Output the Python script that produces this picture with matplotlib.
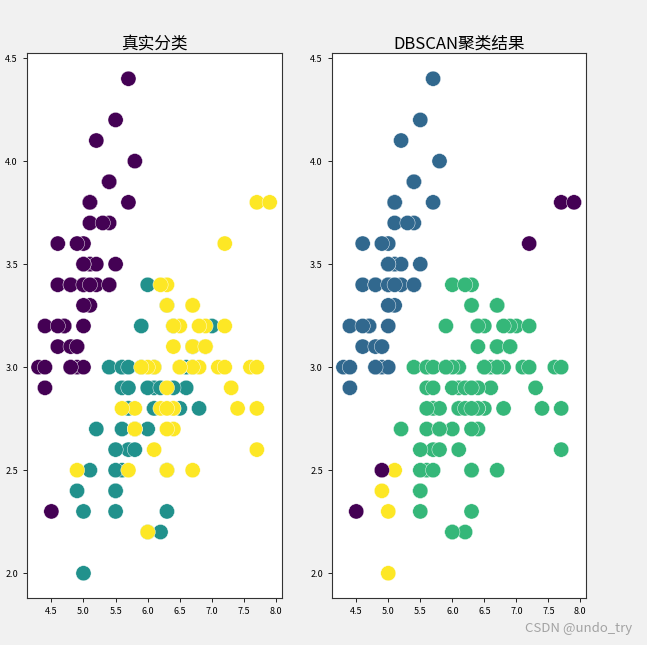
import matplotlib
matplotlib.use('Agg')
from matplotlib import pyplot as plt

plt.rcParams['font.family'] = ['Noto Sans CJK SC', 'DejaVu Sans']
plt.rcParams['axes.unicode_minus'] = False

# iris: 花萼长度 / 花萼宽度
sepal_length = [
    5.1, 4.9, 4.7, 4.6, 5.0, 5.4, 4.6, 5.0, 4.4, 4.9,
    5.4, 4.8, 4.8, 4.3, 5.8, 5.7, 5.4, 5.1, 5.7, 5.1,
    5.4, 5.1, 4.6, 5.1, 4.8, 5.0, 5.0, 5.2, 5.2, 4.7,
    4.8, 5.4, 5.2, 5.5, 4.9, 5.0, 5.5, 4.9, 4.4, 5.1,
    5.0, 4.5, 4.4, 5.0, 5.1, 4.8, 5.1, 4.6, 5.3, 5.0,
    7.0, 6.4, 6.9, 5.5, 6.5, 5.7, 6.3, 4.9, 6.6, 5.2,
    5.0, 5.9, 6.0, 6.1, 5.6, 6.7, 5.6, 5.8, 6.2, 5.6,
    5.9, 6.1, 6.3, 6.1, 6.4, 6.6, 6.8, 6.7, 6.0, 5.7,
    5.5, 5.5, 5.8, 6.0, 5.4, 6.0, 6.7, 6.3, 5.6, 5.5,
    5.5, 6.1, 5.8, 5.0, 5.6, 5.7, 5.7, 6.2, 5.1, 5.7,
    6.3, 5.8, 7.1, 6.3, 6.5, 7.6, 4.9, 7.3, 6.7, 7.2,
    6.5, 6.4, 6.8, 5.7, 5.8, 6.4, 6.5, 7.7, 7.7, 6.0,
    6.9, 5.6, 7.7, 6.3, 6.7, 7.2, 6.2, 6.1, 6.4, 7.2,
    7.4, 7.9, 6.4, 6.3, 6.1, 7.7, 6.3, 6.4, 6.0, 6.9,
    6.7, 6.9, 5.8, 6.8, 6.7, 6.7, 6.3, 6.5, 6.2, 5.9,
]
sepal_width = [
    3.5, 3.0, 3.2, 3.1, 3.6, 3.9, 3.4, 3.4, 2.9, 3.1,
    3.7, 3.4, 3.0, 3.0, 4.0, 4.4, 3.9, 3.5, 3.8, 3.8,
    3.4, 3.7, 3.6, 3.3, 3.4, 3.0, 3.4, 3.5, 3.4, 3.2,
    3.1, 3.4, 4.1, 4.2, 3.1, 3.2, 3.5, 3.6, 3.0, 3.4,
    3.5, 2.3, 3.2, 3.5, 3.8, 3.0, 3.8, 3.2, 3.7, 3.3,
    3.2, 3.2, 3.1, 2.3, 2.8, 2.8, 3.3, 2.4, 2.9, 2.7,
    2.0, 3.0, 2.2, 2.9, 2.9, 3.1, 3.0, 2.7, 2.2, 2.5,
    3.2, 2.8, 2.5, 2.8, 2.9, 3.0, 2.8, 3.0, 2.9, 2.6,
    2.4, 2.4, 2.7, 2.7, 3.0, 3.4, 3.1, 2.3, 3.0, 2.5,
    2.6, 3.0, 2.6, 2.3, 2.7, 3.0, 2.9, 2.9, 2.5, 2.8,
    3.3, 2.7, 3.0, 2.9, 3.0, 3.0, 2.5, 2.9, 2.5, 3.6,
    3.2, 2.7, 3.0, 2.5, 2.8, 3.2, 3.0, 3.8, 2.6, 2.2,
    3.2, 2.8, 2.8, 2.7, 3.3, 3.2, 2.8, 3.0, 2.8, 3.0,
    2.8, 3.8, 2.8, 2.8, 2.6, 3.0, 3.4, 3.1, 3.0, 3.1,
    3.1, 3.1, 2.7, 3.2, 3.3, 3.0, 2.5, 3.0, 3.4, 3.0,
]

# 真实类别
true_labels = [0] * 50 + [1] * 50 + [2] * 50

# DBSCAN 结果 (-1 为噪声)
dbscan_labels = [
    0, 0, 0, 0, 0, 0, 0, 0, 0, 0,
    0, 0, 0, 0, 0, 0, 0, 0, 0, 0,
    0, 0, 0, 0, 0, 0, 0, 0, 0, 0,
    0, 0, 0, 0, 0, 0, 0, 0, 0, 0,
    0, -1, 0, 0, 0, 0, 0, 0, 0, 0,
    1, 1, 1, 1, 1, 1, 1, 2, 1, 1,
    2, 1, 1, 1, 1, 1, 1, 1, 1, 1,
    1, 1, 1, 1, 1, 1, 1, 1, 1, 1,
    1, 1, 1, 1, 1, 1, 1, 1, 1, 1,
    1, 1, 1, 2, 1, 1, 1, 1, 2, 1,
    1, 1, 1, 1, 1, 1, -1, 1, 1, -1,
    1, 1, 1, 1, 1, 1, 1, -1, 1, 1,
    1, 1, 1, 1, 1, 1, 1, 1, 1, 1,
    1, -1, 1, 1, 1, 1, 1, 1, 1, 1,
    1, 1, 1, 1, 1, 1, 1, 1, 1, 1,
]

titles = ['真实分类', 'DBSCAN聚类结果']
x_ticks = [4.5, 5.0, 5.5, 6.0, 6.5, 7.0, 7.5, 8.0]
y_ticks = [2.0, 2.5, 3.0, 3.5, 4.0, 4.5]

fig = plt.figure(figsize=(6.47, 6.45), dpi=100, facecolor='#f1f1f1')
ax1 = fig.add_axes([0.0417, 0.0729, 0.394, 0.845])
ax2 = fig.add_axes([0.513, 0.0729, 0.393, 0.845])

for ax, labels, title in zip([ax1, ax2], [true_labels, dbscan_labels], titles):
    ax.scatter(sepal_length, sepal_width, c=labels, cmap='viridis', s=120,
               edgecolors='white', linewidths=0.3)
    ax.set_title(title, fontsize=12, pad=3)
    ax.set_xticks(x_ticks)
    ax.set_yticks(y_ticks)
    ax.tick_params(labelsize=6.5, length=3, width=0.6)
    ax.set_xlim(4.12, 8.09)
    ax.set_ylim(1.88, 4.525)
    for sp in ax.spines.values():
        sp.set_color('#333333')

fig.text(0.977, 0.026, 'CSDN @undo_try', fontsize=9.5, color='#a3a3a3',
         ha='right', va='center')

plt.savefig('out.png', dpi=100, facecolor=fig.get_facecolor())
